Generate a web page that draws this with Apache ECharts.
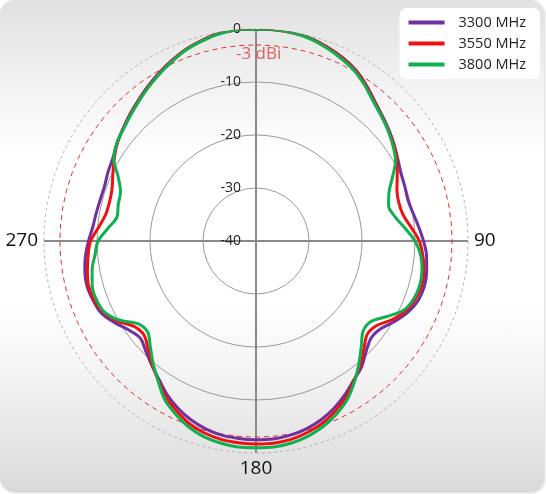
<!DOCTYPE html>
<html>
<head>
<meta charset="utf-8">
<script src="https://cdn.jsdelivr.net/npm/echarts@6/dist/echarts.min.js"></script>
<style>
  html, body { margin: 0; padding: 0; background: #fff; }
  .wrap {
    position: absolute; left: 0; top: 0; width: 544px; height: 492px;
    border-radius: 14px;
    background: linear-gradient(to bottom, #e1e1e1 0%, #f3f3f3 18%, #ffffff 32%, #ffffff 62%, #f0f0f0 80%, #dadada 100%);
    box-shadow: 1px 1px 2px rgba(0,0,0,0.15);
  }
  #main { position: absolute; left: 0; top: 0; width: 546px; height: 494px; }
</style>
</head>
<body>
<div class="wrap"></div>
<div id="main"></div>
<script>
// angles in degrees, 0 = top, clockwise
var angles = [0, 5, 10, 15, 20, 25, 30, 35, 40, 45, 50, 55, 60, 65, 70, 75, 80, 85,
  90, 95, 100, 105, 110, 115, 120, 125, 130, 135, 140, 145, 150, 155, 160, 165, 170, 175,
  180, 185, 190, 195, 200, 205, 210, 215, 220, 225, 230, 235, 240, 245, 250, 255, 260, 265,
  270, 275, 280, 285, 290, 295, 300, 305, 310, 315, 320, 325, 330, 335, 340, 345, 350, 355]

// gain in dBi
var gain3300 = [0, 0, -0.1, -0.4, -1.0, -1.7, -2.6, -3.9, -5.3, -6.4, -7.3, -8.2, -9.1, -9.8, -10.1, -10.3, -9.9, -9.2,
  -8.4, -7.7, -7.3, -7.1, -7.4, -8.3, -9.7, -11.2, -11.6, -10.6, -9.0, -7.9, -6.5, -5.2, -4.1, -3.3, -2.8, -2.5,
  -2.5, -2.6, -2.8, -3.3, -4.1, -5.2, -6.5, -8.1, -9.4, -10.6, -11.5, -10.7, -9.2, -7.8, -7.3, -7.0, -7.2, -7.7,
  -8.4, -9.1, -9.4, -9.6, -9.6, -9.2, -8.8, -8.0, -7.2, -6.3, -5.4, -4.4, -3.4, -2.4, -1.5, -0.8, -0.2, 0]

var gain3550 = [0, 0, -0.1, -0.4, -1.0, -1.8, -2.7, -4.0, -5.4, -6.5, -7.4, -8.3, -9.3, -10.6, -11.7, -12.1, -11.8, -10.6,
  -9.2, -8.4, -7.8, -7.6, -8.0, -8.8, -10.3, -12.2, -12.6, -11.2, -9.4, -7.8, -6.0, -4.6, -3.4, -2.6, -2.0, -1.7,
  -1.7, -1.8, -2.0, -2.5, -3.3, -4.6, -6.0, -7.9, -9.5, -11.2, -12.4, -11.9, -9.8, -8.2, -7.5, -7.3, -7.7, -8.2,
  -8.8, -10.2, -11.2, -11.4, -11.1, -10.2, -9.1, -8.0, -7.2, -6.4, -5.5, -4.5, -3.5, -2.5, -1.5, -0.8, -0.2, 0]

var gain3800 = [0, 0, -0.1, -0.5, -1.2, -2.0, -2.9, -4.2, -5.6, -6.6, -7.5, -8.5, -9.6, -11.6, -13.3, -14.1, -13.4, -11.8,
  -10.0, -8.8, -8.2, -8.0, -8.3, -9.2, -11.5, -13.5, -13.6, -11.9, -9.8, -7.6, -5.5, -4.0, -2.8, -1.9, -1.3, -1.0,
  -1.0, -1.0, -1.3, -1.8, -2.7, -4.0, -5.5, -7.8, -9.8, -11.8, -13.3, -12.8, -10.2, -8.4, -7.9, -8.0, -8.6, -9.5,
  -10.2, -12.0, -13.4, -13.1, -12.8, -11.3, -9.0, -7.9, -7.3, -6.5, -5.6, -4.6, -3.6, -2.6, -1.6, -0.9, -0.3, 0]

var seriesNames = ['3300 MHz', '3550 MHz', '3800 MHz']
var seriesColors = ['#7030a0', '#ee1111', '#10b050']
var refLevel = -3

var chart = echarts.init(document.getElementById('main'))

function closed(vals) {
  var d = angles.map(function (a, i) { return [vals[i], a] })
  d.push([vals[0], 360])
  return d
}

var refData = angles.map(function (a) { return [refLevel, a] })
refData.push([refLevel, 360])

var series = [gain3300, gain3550, gain3800].map(function (g, i) {
  return {
    name: seriesNames[i],
    type: 'line',
    coordinateSystem: 'polar',
    data: closed(g),
    smooth: 0.35,
    symbol: 'none',
    lineStyle: { color: seriesColors[i], width: 3 },
    itemStyle: { color: seriesColors[i] },
    z: 5 + i
  }
})
series.unshift({
  name: 'ref',
  type: 'line',
  coordinateSystem: 'polar',
  data: refData,
  symbol: 'none',
  silent: true,
  lineStyle: { color: '#e03030', width: 1, type: [5, 4] },
  z: 2
})

chart.setOption({
  animation: false,
  textStyle: { fontFamily: 'Open Sans' },
  legend: {
    data: seriesNames,
    right: 6,
    top: 8,
    orient: 'vertical',
    backgroundColor: '#ffffff',
    borderRadius: 7,
    padding: [7, 14, 7, 9],
    itemWidth: 36,
    itemHeight: 4,
    itemGap: 6,
    icon: 'rect',
    textStyle: { fontSize: 14.5, color: '#222', padding: [0, 0, 0, 9] }
  },
  polar: { center: [256, 241], radius: 212 },
  angleAxis: {
    type: 'value',
    min: 0,
    max: 360,
    interval: 90,
    startAngle: 90,
    clockwise: true,
    axisLine: { show: true, lineStyle: { color: '#b0b0b0', width: 1, type: [3, 3] } },
    axisTick: { show: false },
    axisLabel: {
      show: true,
      fontSize: 19,
      color: '#111',
      margin: 6,
      formatter: function (v) { return (v === 0 || v === 360) ? '' : String(v) }
    },
    splitLine: { show: true, lineStyle: { color: '#8a8a8a', width: 2 } }
  },
  radiusAxis: {
    type: 'value',
    min: -40,
    max: 0,
    interval: 10,
    axisLine: { show: false },
    axisTick: { show: false },
    axisLabel: { show: true, fontSize: 14, color: '#222', margin: 15 },
    splitLine: {
      show: true,
      lineStyle: { color: ['#999', '#999', '#999', '#999', 'rgba(0,0,0,0)'], width: 1 }
    }
  },
  graphic: [{
    type: 'text',
    left: 236,
    top: 46,
    z: 20,
    style: { text: '-3 dBi', fontSize: 17, fill: '#e06060', fontFamily: 'Open Sans' }
  }],
  series: series
})
</script>
</body>
</html>
